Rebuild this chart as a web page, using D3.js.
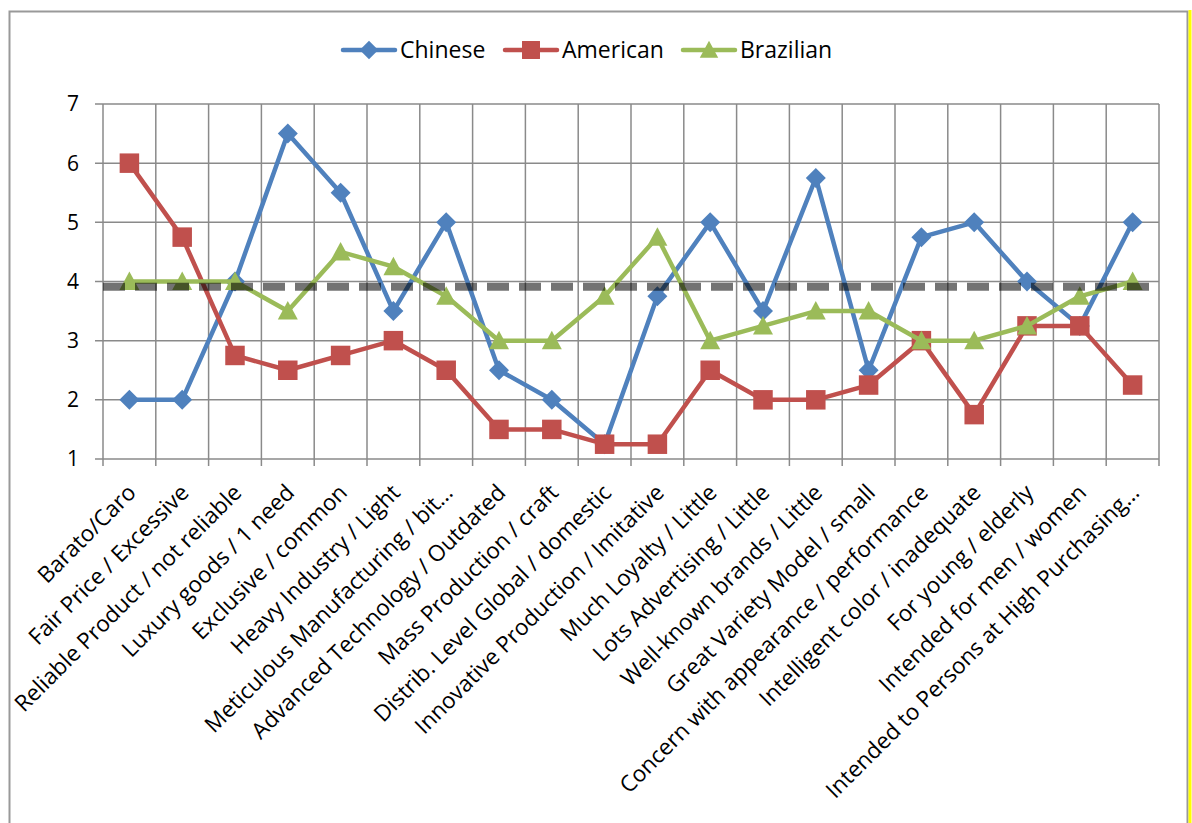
<!DOCTYPE html>
<html>
<head>
<meta charset="utf-8">
<script src="https://cdn.jsdelivr.net/npm/d3@7"></script>
<style>
  body { margin: 0; background: #fff; }
  svg { display: block; font-family: "Open Sans", sans-serif; }
</style>
</head>
<body>
<svg width="1192" height="823"></svg>
<script>
// --- Data ---
const categories = [
  "Barato/Caro", "Fair Price / Excessive", "Reliable Product / not reliable",
  "Luxury goods / 1 need", "Exclusive / common", "Heavy Industry / Light",
  "Meticulous Manufacturing / bit…", "Advanced Technology / Outdated",
  "Mass Production / craft", "Distrib. Level Global / domestic",
  "Innovative Production / Imitative", "Much Loyalty / Little",
  "Lots Advertising / Little", "Well-known brands / Little",
  "Great Variety Model / small", "Concern with appearance / performance",
  "Intelligent color / inadequate", "For young / elderly",
  "Intended for men / women", "Intended to Persons at High Purchasing…"
];
const chinese   = [2, 2, 4, 6.5, 5.5, 3.5, 5, 2.5, 2, 1.25, 3.75, 5, 3.5, 5.75, 2.5, 4.75, 5, 4, 3.25, 5];
const american  = [6, 4.75, 2.75, 2.5, 2.75, 3, 2.5, 1.5, 1.5, 1.25, 1.25, 2.5, 2, 2, 2.25, 3, 1.75, 3.25, 3.25, 2.25];
const brazilian = [4, 4, 4, 3.5, 4.5, 4.25, 3.75, 3, 3, 3.75, 4.75, 3, 3.25, 3.5, 3.5, 3, 3, 3.25, 3.75, 4];
const yTicks = [1, 2, 3, 4, 5, 6, 7];
const refValue = 3.91;

// --- Marker shapes (Excel-like, wider than d3 defaults) ---
const diamond = { draw(ctx, size) { const r = Math.sqrt(size) / 2;
  ctx.moveTo(0, -r); ctx.lineTo(r, 0); ctx.lineTo(0, r); ctx.lineTo(-r, 0); ctx.closePath(); } };
const square = { draw(ctx, size) { const r = Math.sqrt(size) / 2;
  ctx.rect(-r, -r, 2 * r, 2 * r); } };
const triangle = { draw(ctx, size) { const r = Math.sqrt(size) / 2;
  ctx.moveTo(0, -r); ctx.lineTo(r, r * 0.85); ctx.lineTo(-r, r * 0.85); ctx.closePath(); } };

const series = [
  { name: "Chinese",   values: chinese,   color: "#4F81BD", symbol: diamond,  size: 400 },
  { name: "American",  values: american,  color: "#C0504D", symbol: square,   size: 380 },
  { name: "Brazilian", values: brazilian, color: "#9BBB59", symbol: triangle, size: 400 }
];

// --- Setup ---
const svg = d3.select("svg");
const margin = { left: 103, right: 1159, top: 104, bottom: 459 };
const gridColor = "#8a8a8a";

// outer frame
svg.append("path")
  .attr("d", "M9.5,823 V11.5 H1187.5 V823")
  .attr("fill", "none").attr("stroke", "#999").attr("stroke-width", 2);
svg.append("line")
  .attr("x1", 1190).attr("x2", 1190).attr("y1", 10).attr("y2", 823)
  .attr("stroke", "#ffff00").attr("stroke-width", 3);

const x = d3.scaleBand().domain(categories).range([margin.left, margin.right]);
const y = d3.scaleLinear().domain([1, 7]).range([margin.bottom, margin.top]);

// --- Grid ---
const grid = svg.append("g");
grid.selectAll("line.h")
  .data(yTicks)
  .join("line")
    .attr("x1", margin.left - 8).attr("x2", margin.right)
    .attr("y1", d => y(d)).attr("y2", d => y(d))
    .attr("stroke", gridColor).attr("stroke-width", 1.5);

const bounds = categories.map(c => x(c)).concat([margin.right]);
grid.selectAll("line.v")
  .data(bounds)
  .join("line")
    .attr("x1", d => d).attr("x2", d => d)
    .attr("y1", margin.top).attr("y2", margin.bottom + 7)
    .attr("stroke", gridColor).attr("stroke-width", 1.5);

// --- Y labels ---
svg.append("g").selectAll("text")
  .data(yTicks)
  .join("text")
    .attr("x", 79).attr("y", d => y(d))
    .attr("dy", "0.35em")
    .attr("text-anchor", "end")
    .attr("font-size", "21px")
    .attr("fill", "#000")
    .text(d => d);

// --- X labels ---
svg.append("g").selectAll("text")
  .data(categories)
  .join("text")
    .attr("transform", d => `translate(${x(d) + x.bandwidth() / 2 + 8},${margin.bottom + 35}) rotate(-45)`)
    .attr("text-anchor", "end")
    .attr("font-size", "22.5px")
    .attr("fill", "#000")
    .text(d => d);

// --- Lines ---
const line = d3.line()
  .x((d, i) => x(categories[i]) + x.bandwidth() / 2)
  .y(d => y(d));

series.forEach(s => {
  const g = svg.append("g");
  g.append("path")
    .attr("d", line(s.values))
    .attr("fill", "none")
    .attr("stroke", s.color)
    .attr("stroke-width", 4.5)
    .attr("stroke-linejoin", "round");
  g.selectAll("path.m")
    .data(s.values)
    .join("path")
      .attr("class", "m")
      .attr("d", d3.symbol().type(s.symbol).size(s.size))
      .attr("transform", (d, i) => `translate(${x(categories[i]) + x.bandwidth() / 2},${y(d)})`)
      .attr("fill", s.color);
});

// --- Reference dashed line ---
svg.append("line")
  .attr("x1", margin.left).attr("x2", margin.right)
  .attr("y1", y(refValue)).attr("y2", y(refValue))
  .attr("stroke", "#000").attr("stroke-opacity", 0.55)
  .attr("stroke-width", 8)
  .attr("stroke-dasharray", "22 10");

// --- Legend ---
const legendItems = [
  { x: 343, s: series[0] },
  { x: 505, s: series[1] },
  { x: 683, s: series[2] }
];
const legend = svg.append("g");
legendItems.forEach(li => {
  const g = legend.append("g").attr("transform", `translate(${li.x},50)`);
  g.append("line").attr("x1", 0).attr("x2", 52)
    .attr("stroke", li.s.color).attr("stroke-width", 4.5).attr("stroke-linecap", "round");
  g.append("path")
    .attr("d", d3.symbol().type(li.s.symbol).size(li.s.size * 0.85))
    .attr("transform", "translate(26,0)")
    .attr("fill", li.s.color);
  g.append("text")
    .attr("x", 57).attr("dy", "0.35em")
    .attr("font-size", "23px")
    .text(li.s.name);
});
</script>
</body>
</html>
